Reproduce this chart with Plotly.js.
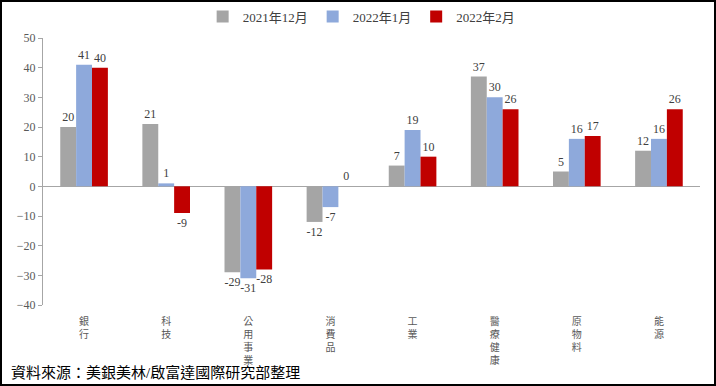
<!DOCTYPE html>
<html>
<head>
<meta charset="utf-8">
<script src="https://cdn.plot.ly/plotly-3.0.1.min.js"></script>
<style>
html,body{margin:0;padding:0;background:#fff;}
#wrap{width:716px;height:386px;box-sizing:border-box;border:2px solid #000;position:relative;}
#chart{width:712px;height:382px;}
</style>
</head>
<body>
<div id="wrap"><div id="chart"></div></div>
<script>
const categories = ["銀行","科技","公用事業","消費品","工業","醫療健康","原物料","能源"];
const seriesNames = ["2021年12月","2022年1月","2022年2月"];
const dec2021 = [20, 21, -29, -12, 7, 37, 5, 12];
const jan2022 = [41, 1, -31, -7, 19, 30, 16, 16];
const feb2022 = [40, -9, -28, 0, 10, 26, 17, 26];
const colors = ["#A5A5A5", "#8EA9DB", "#C00000"];
const yTicks = [-40,-30,-20,-10,0,10,20,30,40,50];

const vertLabel = s => s.split("").join("<br>");
const tickText = categories.map(vertLabel);
const font = "'Liberation Serif','Times New Roman','Noto Sans CJK TC',serif";
const labelFont = {family: font, size: 12, color: "#404040"};

const data = [dec2021, jan2022, feb2022].map((vals, i) => ({
  type: "bar",
  name: seriesNames[i],
  x: categories,
  y: vals,
  marker: {color: colors[i]},
  text: vals.map(String),
  textposition: "outside",
  cliponaxis: false,
  textfont: labelFont,
  outsidetextfont: labelFont,
  hoverinfo: "none"
}));

const layout = {
  width: 712, height: 382,
  margin: {l: 41, r: 14, t: 36, b: 79, autoexpand: false},
  paper_bgcolor: "#fff", plot_bgcolor: "#fff",
  barmode: "group",
  bargap: 0.42,
  bargroupgap: 0,
  showlegend: true,
  legend: {orientation: "h", x: 0.485, xanchor: "center", y: 1.08, yanchor: "middle",
           font: {family: font, size: 13, color: "#404040"}, itemwidth: 30, tracegroupgap: 0},
  xaxis: {
    tickmode: "array", tickvals: categories, ticktext: tickText,
    showline: false, showgrid: false, zeroline: false, ticks: "",
    tickfont: {family: font, size: 10, color: "#595959"},
    tickangle: 0, ticklabelstandoff: 9, automargin: false
  },
  yaxis: {
    range: [-40, 50], tickmode: "array", tickvals: yTicks,
    showline: true, linecolor: "#A6A6A6", linewidth: 1,
    ticks: "outside", ticklen: 4, tickcolor: "#A6A6A6",
    showgrid: false, zeroline: true, zerolinecolor: "#A6A6A6", zerolinewidth: 1,
    tickfont: {family: font, size: 12, color: "#595959"}, automargin: false
  },
  annotations: [{
    text: "資料來源：美銀美林/啟富達國際研究部整理",
    xref: "paper", yref: "paper", x: -0.052, y: -0.254, xanchor: "left", yanchor: "middle",
    showarrow: false, font: {family: font, size: 15, color: "#000"}
  }]
};

Plotly.newPlot("chart", data, layout, {displayModeBar: false, staticPlot: true});
</script>
</body>
</html>
